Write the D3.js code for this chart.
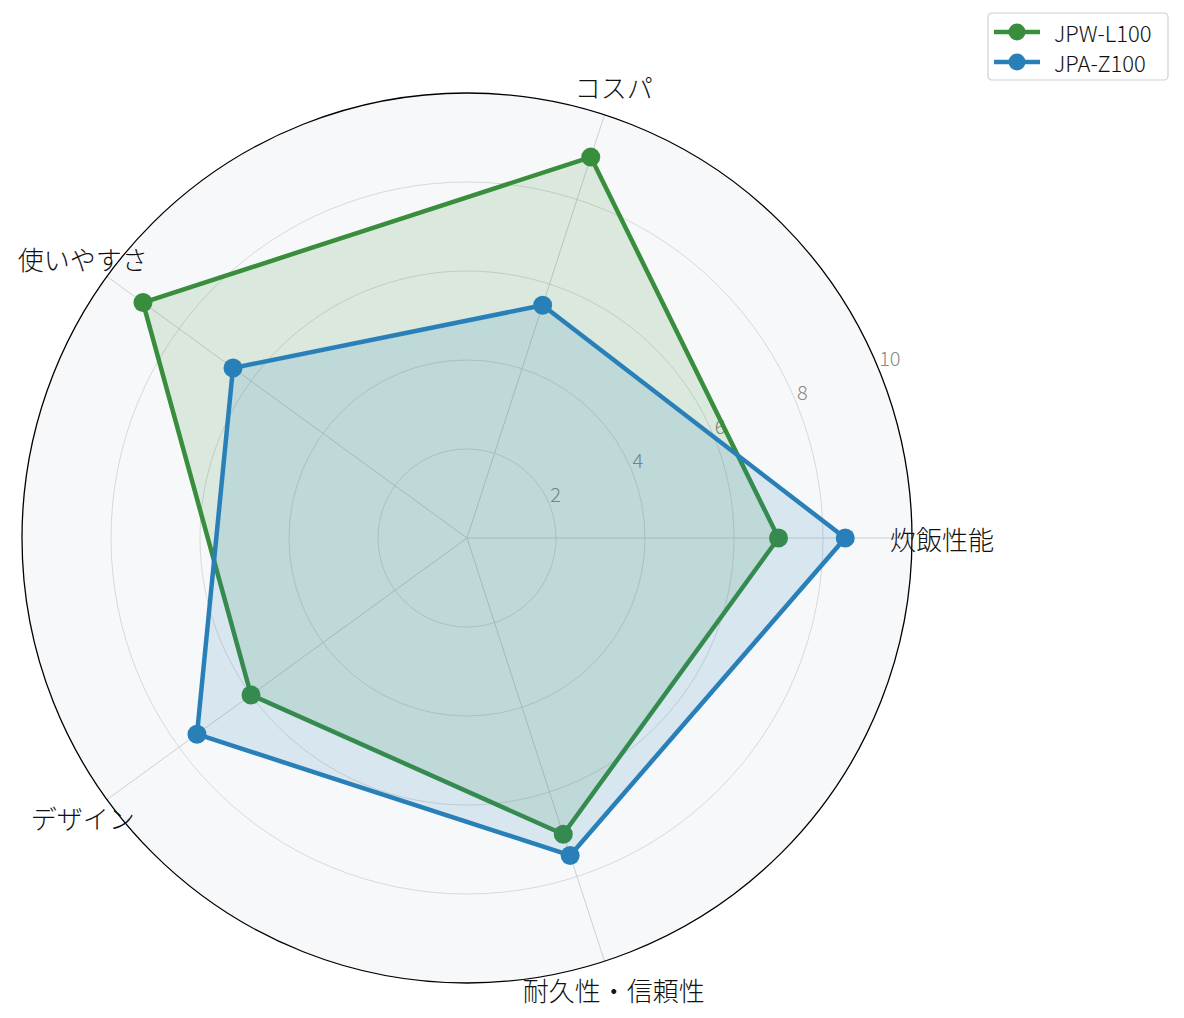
<!DOCTYPE html>
<meta charset="utf-8">
<style>
body { margin: 0; background: #fff; }
text { font-family: "Noto Sans CJK JP", "Noto Sans", sans-serif; font-weight: 300; }
.grid { fill: none; stroke: #d9d9d9; stroke-width: 1px; }
.spoke { stroke: #cfcfcf; stroke-width: 1px; }
.tick { fill: #888; font-size: 20px; }
.cat { fill: #111; font-size: 26px; }
</style>
<body></body>
<script src="https://d3js.org/d3.v7.min.js"></script>
<script>

var categories = ["炊飯性能", "コスパ", "使いやすさ", "デザイン", "耐久性・信頼性"];
var seriesNames = ["JPW-L100", "JPA-Z100"];
var valuesL100 = [7.0, 9.0, 9.0, 6.0, 7.0];
var valuesZ100 = [8.5, 5.5, 6.5, 7.5, 7.5];
var rTicks = [2, 4, 6, 8, 10];
var colors = ["#388e3c", "#2980b9"];

var width = 1184,
    height = 1018,
    cx = 467,
    cy = 538,
    outer = 445;

var svg = d3.select("body").append("svg")
    .attr("width", width)
    .attr("height", height);

var r = d3.scaleLinear().domain([0, 10]).range([0, outer]);
// counter-clockwise from 3 o'clock, like matplotlib polar
var angle = d3.scaleLinear().domain([0, categories.length]).range([0, 2 * Math.PI]);

function px(i, v) { return cx + r(v) * Math.cos(angle(i)); }
function py(i, v) { return cy - r(v) * Math.sin(angle(i)); }

var g = svg.append("g");

// background
g.append("circle")
    .attr("cx", cx).attr("cy", cy).attr("r", outer)
    .attr("fill", "#f7f8fa");

// circular grid
g.selectAll(".grid")
    .data(rTicks.slice(0, -1))
    .enter().append("circle")
    .attr("class", "grid")
    .attr("cx", cx).attr("cy", cy)
    .attr("r", function(d) { return r(d); });

// spokes
g.selectAll(".spoke")
    .data(categories)
    .enter().append("line")
    .attr("class", "spoke")
    .attr("x1", cx).attr("y1", cy)
    .attr("x2", function(d, i) { return px(i, 10); })
    .attr("y2", function(d, i) { return py(i, 10); });

// radial tick labels at 22.5 deg
var ta = 22.5 * Math.PI / 180;
g.selectAll(".tick")
    .data(rTicks)
    .enter().append("text")
    .attr("class", "tick")
    .attr("x", function(d) { return cx + r(d) * Math.cos(ta) + 1; })
    .attr("y", function(d) { return cy - r(d) * Math.sin(ta) - 10; })
    .attr("text-anchor", "start")
    .attr("dominant-baseline", "central")
    .text(function(d) { return d; });

// series
var series = [valuesL100, valuesZ100];
series.forEach(function(vals, s) {
  var pts = vals.map(function(v, i) { return [px(i, v), py(i, v)]; });
  var line = d3.line().curve(d3.curveLinearClosed);
  g.append("path")
      .attr("d", line(pts))
      .attr("fill", colors[s])
      .attr("fill-opacity", 0.15)
      .attr("stroke", "none");
  g.append("path")
      .attr("d", line(pts))
      .attr("fill", "none")
      .attr("stroke", colors[s])
      .attr("stroke-width", 4.5)
      .attr("stroke-linejoin", "round");
  g.selectAll(".pt" + s)
      .data(pts)
      .enter().append("circle")
      .attr("cx", function(d) { return d[0]; })
      .attr("cy", function(d) { return d[1]; })
      .attr("r", 9.5)
      .attr("fill", colors[s]);
});

// outer spine
g.append("circle")
    .attr("cx", cx).attr("cy", cy).attr("r", outer)
    .attr("fill", "none")
    .attr("stroke", "#000")
    .attr("stroke-width", 1.3);

// category labels
g.selectAll(".cat")
    .data(categories)
    .enter().append("text")
    .attr("class", "cat")
    .attr("x", function(d, i) { return cx + 475 * Math.cos(angle(i)); })
    .attr("y", function(d, i) { return cy - 475 * Math.sin(angle(i)); })
    .attr("text-anchor", "middle")
    .attr("dominant-baseline", "central")
    .text(function(d) { return d; });

// legend
var lg = svg.append("g").attr("transform", "translate(988,13)");
lg.append("rect")
    .attr("width", 180).attr("height", 67)
    .attr("rx", 4)
    .attr("fill", "#fff")
    .attr("stroke", "#d0d0d0")
    .attr("stroke-width", 1.2);
seriesNames.forEach(function(name, s) {
  var yy = 19 + s * 30;
  lg.append("line")
      .attr("x1", 6).attr("x2", 52)
      .attr("y1", yy).attr("y2", yy)
      .attr("stroke", colors[s])
      .attr("stroke-width", 4.5);
  lg.append("circle")
      .attr("cx", 29).attr("cy", yy).attr("r", 8.5)
      .attr("fill", colors[s]);
  lg.append("text")
      .attr("x", 66).attr("y", yy)
      .attr("dominant-baseline", "central")
      .attr("font-size", "22px")
      .attr("fill", "#111")
      .text(name);
});

</script>
